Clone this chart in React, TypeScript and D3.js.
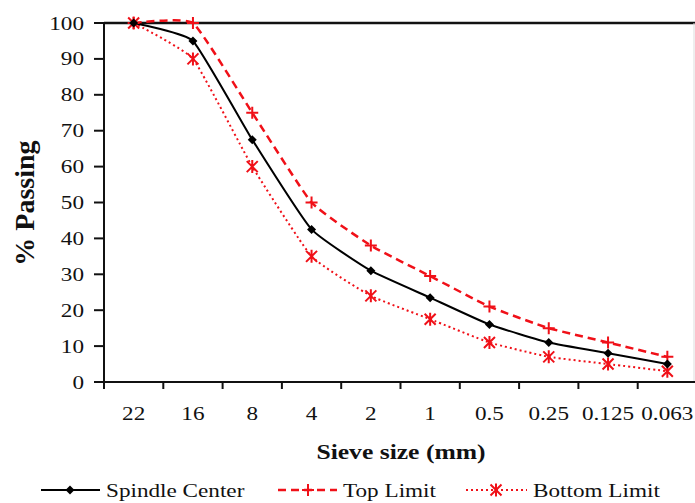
import React from "react";
import * as d3 from "d3";

const categories = ["22", "16", "8", "4", "2", "1", "0.5", "0.25", "0.125", "0.063"];
const spindleCenter = [100, 95, 67.5, 42.5, 31, 23.5, 16, 11, 8, 5];
const topLimit = [100, 100, 75, 50, 38, 29.5, 21, 15, 11, 7];
const bottomLimit = [100, 90, 60, 35, 24, 17.5, 11, 7, 5, 3];
const yTicks = [0, 10, 20, 30, 40, 50, 60, 70, 80, 90, 100];

const W = 695;
const H = 503;
const L = 104;
const R = 697;
const T = 23;
const B = 382;
const SX = 1.22;
const FONT = "'Liberation Serif', 'Times New Roman', serif";
const RED = "#f01018";

function T_({ x, y, anchor = "middle", size = 19, bold = false, children, sx = SX }: any) {
  return (
    <text
      transform={`translate(${x},${y}) scale(${sx},1)`}
      textAnchor={anchor}
      fontFamily={FONT}
      fontSize={size}
      fontWeight={bold ? "bold" : "normal"}
      fill="#111"
    >
      {children}
    </text>
  );
}

function Diamond({ x, y }: any) {
  const s = 4.5;
  return <path d={`M${x},${y - s}L${x + s},${y}L${x},${y + s}L${x - s},${y}Z`} fill="#000" />;
}
function Plus({ x, y }: any) {
  const s = 6;
  return <path d={`M${x - s},${y}H${x + s}M${x},${y - s}V${y + s}`} stroke={RED} strokeWidth={2} />;
}
function Star({ x, y }: any) {
  const s = 5.5;
  return (
    <path
      d={`M${x - s},${y - s}L${x + s},${y + s}M${x - s},${y + s}L${x + s},${y - s}M${x},${y - s - 1}V${y + s + 1}`}
      stroke={RED}
      strokeWidth={2}
    />
  );
}

export default function App() {
  const x = d3.scaleBand().domain(categories).range([L, R]);
  const bw = x.bandwidth();
  const cx = (c: string) => (x(c) as number) + bw / 2;
  const y = d3.scaleLinear().domain([0, 100]).range([B, T]);
  const line = d3
    .line<number>()
    .x((_, i) => cx(categories[i]))
    .y((d) => y(d))
    .curve(d3.curveCardinal.tension(0.6));

  const boundaries = d3.range(categories.length + 1).map((i) => L + i * bw);

  return (
    <svg width={W} height={H} style={{ position: "absolute", left: 0, top: 0, background: "#fff" }}>
      <rect width={W} height={H} fill="#fff" />
      <line x1={L} x2={W} y1={T} y2={T} stroke="#111" strokeWidth={2.5} />
      <line x1={694} x2={694} y1={T} y2={B} stroke="#ddd" strokeWidth={1} />
      <line x1={L} x2={L} y1={T} y2={B} stroke="#111" strokeWidth={2} />
      {yTicks.map((t) => (
        <g key={t}>
          <line x1={L - 10} x2={L} y1={y(t)} y2={y(t)} stroke="#111" strokeWidth={2} />
          <T_ x={84} y={y(t) + 6.5} anchor="end" size={19}>
            {t}
          </T_>
        </g>
      ))}
      <line x1={L - 10} x2={W} y1={B} y2={B} stroke="#111" strokeWidth={2} />
      {boundaries.map((b, i) => (
        <line key={i} x1={b} x2={b} y1={B} y2={B + 7} stroke="#111" strokeWidth={2} />
      ))}
      {categories.map((c) => (
        <T_ key={c} x={cx(c)} y={420} size={19}>
          {c}
        </T_>
      ))}
      <T_ x={401} y={459} size={21} bold>
        Sieve size (mm)
      </T_>
      <text
        transform="translate(34,203) rotate(-90)"
        textAnchor="middle"
        fontFamily={FONT}
        fontSize={28}
        fontWeight="bold"
        fill="#111"
      >
        % Passing
      </text>

      <path d={line(bottomLimit) as string} fill="none" stroke={RED} strokeWidth={2} strokeDasharray="2 3" />
      <path d={line(topLimit) as string} fill="none" stroke={RED} strokeWidth={2.5} strokeDasharray="8 5" />
      <path d={line(spindleCenter) as string} fill="none" stroke="#000" strokeWidth={2} />
      {bottomLimit.map((v, i) => (
        <Star key={"b" + i} x={cx(categories[i])} y={y(v)} />
      ))}
      {topLimit.map((v, i) => (
        <Plus key={"t" + i} x={cx(categories[i])} y={y(v)} />
      ))}
      {spindleCenter.map((v, i) => (
        <Diamond key={"s" + i} x={cx(categories[i])} y={y(v)} />
      ))}

      <line x1={41} x2={100} y1={490} y2={490} stroke="#000" strokeWidth={2} />
      <Diamond x={70} y={490} />
      <T_ x={106} y={497} anchor="start" size={19}>
        Spindle Center
      </T_>
      <line x1={278} x2={337} y1={490} y2={490} stroke={RED} strokeWidth={2.5} strokeDasharray="8 5" />
      <Plus x={308} y={490} />
      <T_ x={343} y={497} anchor="start" size={19}>
        Top Limit
      </T_>
      <line x1={466} x2={527} y1={490} y2={490} stroke={RED} strokeWidth={2} strokeDasharray="2 3" />
      <Star x={496} y={490} />
      <T_ x={533} y={497} anchor="start" size={19}>
        Bottom Limit
      </T_>
    </svg>
  );
}
